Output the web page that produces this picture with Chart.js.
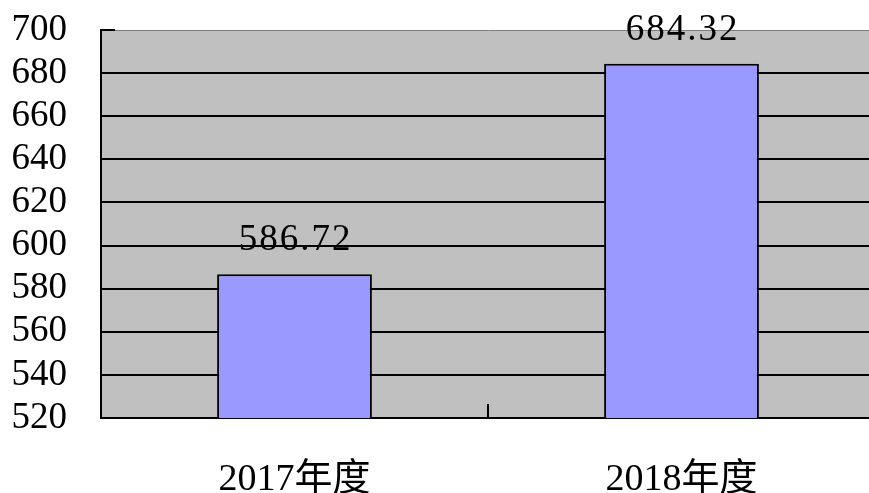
<!DOCTYPE html>
<html lang="zh">
<head>
    <meta charset="UTF-8">
    <title>年度对比</title>
    <style>
        body { margin: 0; background: #fff; }
        #box { width: 869px; height: 493px; overflow: hidden; }
    </style>
</head>
<body>
    <div id="box">
        <canvas id="grafico" width="877" height="493"></canvas>
    </div>

    <script src="https://cdn.jsdelivr.net/npm/chart.js"></script>
    <script>
        const categorias = ['2017年度', '2018年度']
        const valores = [586.72, 684.32]
        const eixoMin = 520
        const eixoMax = 700
        const passo = 20

        const fonte = "'Liberation Serif', 'Noto Sans CJK SC', serif"

        // fundo cinza, marcas e rótulos dos valores
        const extras = {
            id: 'extras',
            beforeDraw(chart) {
                const { ctx, chartArea: a } = chart
                ctx.save()
                ctx.fillStyle = '#c0c0c0'
                ctx.fillRect(a.left, a.top, a.right - a.left, a.bottom - a.top)
                ctx.restore()
            },
            afterDatasetsDraw(chart) {
                const { ctx, chartArea: a, scales } = chart
                const x = scales.x, y = scales.y
                ctx.save()
                ctx.strokeStyle = '#000'
                ctx.lineWidth = 2
                // marca entre as categorias
                const meio = (x.getPixelForValue(0) + x.getPixelForValue(1)) / 2
                ctx.beginPath()
                ctx.moveTo(Math.round(meio), a.bottom)
                ctx.lineTo(Math.round(meio), a.bottom - 14)
                ctx.stroke()
                // marca no topo do eixo y
                const topo = Math.round(y.getPixelForValue(eixoMax))
                ctx.beginPath()
                ctx.moveTo(a.left, topo)
                ctx.lineTo(a.left + 14, topo)
                ctx.stroke()
                // rótulos
                ctx.fillStyle = '#000'
                ctx.font = '37px ' + fonte
                ctx.textAlign = 'center'
                ctx.textBaseline = 'middle'
                ctx.letterSpacing = '2px'
                const meta = chart.getDatasetMeta(0)
                meta.data.forEach((barra, i) => {
                    ctx.fillText(valores[i].toFixed(2), barra.x + 1, barra.y - 34)
                })
                ctx.restore()
            }
        }

        const grafico = new Chart(document.getElementById('grafico'), {
            type: 'bar',
            data: {
                labels: categorias,
                datasets: [{
                    data: valores,
                    backgroundColor: '#9999ff',
                    borderColor: '#000',
                    borderWidth: 2,
                    borderSkipped: false,
                    categoryPercentage: 1,
                    barPercentage: 0.4
                }]
            },
            options: {
                responsive: false,
                animation: false,
                devicePixelRatio: 1,
                layout: { padding: { top: 30, right: 2, left: 0, bottom: 0 } },
                plugins: {
                    legend: { display: false },
                    tooltip: { enabled: false }
                },
                scales: {
                    x: {
                        grid: { display: false },
                        border: { color: '#000', width: 2 },
                        ticks: {
                            color: '#000',
                            padding: 31,
                            font: { family: fonte, size: 38 }
                        },
                        afterFit: s => { s.height = 75; s.paddingLeft = 0; s.paddingRight = 0 }
                    },
                    y: {
                        min: eixoMin,
                        max: eixoMax,
                        grid: {
                            color: c => (c.tick && c.tick.value === eixoMax) ? '#808080' : '#000',
                            lineWidth: c => (c.tick && c.tick.value === eixoMax) ? 1 : 2,
                            drawTicks: false
                        },
                        border: { color: '#000', width: 2 },
                        ticks: {
                            stepSize: passo,
                            autoSkip: false,
                            color: '#000',
                            padding: 34,
                            font: { family: fonte, size: 37 }
                        },
                        afterFit: s => { s.width = 101; s.paddingTop = 0; s.paddingBottom = 0 }
                    }
                }
            },
            plugins: [extras]
        })
    </script>
</body>
</html>
